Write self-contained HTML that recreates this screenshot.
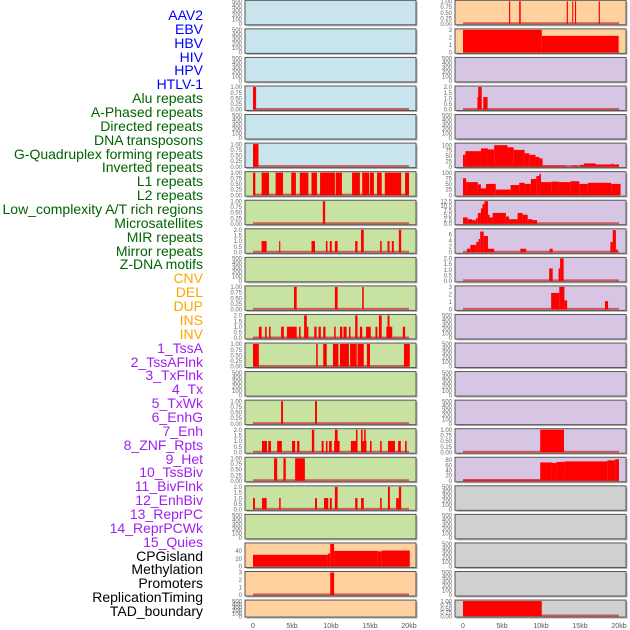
<!DOCTYPE html>
<html><head><meta charset="utf-8"><style>
body{margin:0;background:#fff;width:630px;height:630px;overflow:hidden;font-family:"Liberation Sans",sans-serif}
#labels div{position:absolute;right:427px;font-size:14px;line-height:14px;white-space:nowrap}
</style></head><body>
<div id="labels"></div>
<svg id="chart" width="630" height="630" style="position:absolute;left:0;top:0"></svg>
<script>
const labelTexts=["AAV2","EBV","HBV","HIV","HPV","HTLV-1","Alu repeats","A-Phased repeats","Directed repeats","DNA transposons","G-Quadruplex forming repeats","Inverted repeats","L1 repeats","L2 repeats","Low_complexity A/T rich regions","Microsatellites","MIR repeats","Mirror repeats","Z-DNA motifs","CNV","DEL","DUP","INS","INV","1_TssA","2_TssAFlnk","3_TxFlnk","4_Tx","5_TxWk","6_EnhG","7_Enh","8_ZNF_Rpts","9_Het","10_TssBiv","11_BivFlnk","12_EnhBiv","13_ReprPC","14_ReprPCWk","15_Quies","CPGisland","Methylation","Promoters","ReplicationTiming","TAD_boundary"];
const labelColors=["#0000ff","#0000ff","#0000ff","#0000ff","#0000ff","#0000ff","#006400","#006400","#006400","#006400","#006400","#006400","#006400","#006400","#006400","#006400","#006400","#006400","#006400","#ffa500","#ffa500","#ffa500","#ffa500","#ffa500","#a020f0","#a020f0","#a020f0","#a020f0","#a020f0","#a020f0","#a020f0","#a020f0","#a020f0","#a020f0","#a020f0","#a020f0","#a020f0","#a020f0","#a020f0","#000","#000","#000","#000","#000"];
const leftBg=["b","b","b","b","b","b","g","g","g","g","g","g","g","g","g","g","g","g","g","o","o","o"];
const rightBg=["o","o","p","p","p","p","p","p","p","p","p","p","p","p","p","p","p","y","y","y","y","y"];
const leftMax=[500,500,500,1,500,1,1,1,2,500,1,2,1,500,1,2,1,2,500,58,3,500];
const rightMax=[1,3,500,2,500,105,100,12.5,7.6,2,3,500,500,500,500,1,86,500,500,500,500,1];
const ticks500=["500","400","300","200","100","0"];
const ticks1=["1.00","0.75","0.50","0.25","0.00"];
const ticks2=["2.0","1.5","1.0","0.5","0.0"];
const ticks3=["3","2","1","0"];
const ticks100=["100","75","50","25","0"];
const ticks125=["12.5","10.0","7.5","5.0","2.5","0.0"];
const ticks6=["6","4","2","0"];
const ticks80=["80","60","40","20","0"];
const ticks40=["40","20","0"];
const xTickKb=[0,5,10,15,20];
const xTickLabels=["0","5kb","10kb","15kb","20kb"];
// segments: [startKb,endKb,value]
const L_alu=[[0,0.4,1]];
const L_gquad=[[0,0.7,1]];
const L_l1=[[0,0.3,1],[1.1,2.05,1],[2.9,3.85,1],[4.9,5.5,1],[6.0,7.1,1],[7.5,8.2,1],[8.6,10.5,1],[10.6,11.4,1],[12.7,13.7,1],[14.0,14.9,1],[15.0,15.5,1],[15.9,16.5,1],[16.9,19.0,1],[19.5,20,1]];
const L_lowc=[[8.95,9.25,1]];
const L_mir=[[1.1,1.75,1],[3.35,3.5,1],[7.5,7.95,1],[9.35,9.55,1],[9.85,10.1,1],[10.5,10.85,1],[13.1,13.4,1],[13.85,14.2,2],[16.3,16.5,1],[17.25,17.5,1],[17.8,18.05,1],[18.7,19.0,2]];
const L_zdna=[[5.25,5.6,1],[10.5,10.85,1],[14.0,14.2,1]];
const L_cnv=[[0.75,1.1,1],[1.55,1.75,1],[2.05,2.25,1],[3.6,3.95,1],[4.35,5.6,1],[5.9,6.1,1],[6.55,6.9,2],[6.9,7.1,1],[7.85,8.15,1],[8.4,8.7,1],[9.0,9.3,1],[10.4,10.6,1],[11.15,11.45,1],[11.6,12.0,1],[12.3,12.5,1],[13.1,13.4,2],[13.7,14.0,1],[14.5,15.1,1],[15.7,15.95,1],[16.15,16.5,2],[17.1,17.35,1],[17.25,17.5,2],[17.5,17.85,1],[19.2,19.5,1]];
const L_del=[[0,0.75,1],[8.1,8.3,1],[9.0,9.45,1],[10.25,10.95,1],[11.15,12.3,1],[12.45,13.3,1],[13.4,14.2,1],[14.6,15.0,1],[19.35,20.1,1]];
const L_ins=[[3.6,3.85,1],[7.95,8.2,1]];
const L_inv=[[1.15,1.8,1],[1.95,2.3,1],[3.1,3.7,1],[5.0,5.4,1],[5.65,5.95,1],[7.55,7.85,2],[8.8,9.05,1],[9.35,9.55,1],[9.75,10.1,1],[10.4,11.1,1],[10.5,10.85,2],[12.55,13.4,1],[13.2,13.4,2],[13.85,14.55,1],[13.85,14.05,2],[14.25,14.45,2],[15.0,15.2,1],[16.3,16.5,1],[17.3,18.2,1],[18.6,18.95,1],[19.5,19.7,1]];
const L_tss=[[2.7,3.1,1],[3.9,4.2,1],[5.4,6.65,1]];
const L_r17=[[0,0.25,1],[1.15,1.75,1],[3.35,3.55,1],[7.95,8.2,1],[9.1,9.65,1],[9.85,10.1,1],[10.5,10.85,2],[13.1,13.4,1],[13.85,14.2,1],[16.3,16.5,1],[17.3,17.55,2],[18.35,18.7,1],[18.7,19.0,2]];
const L_cpg=[[0,9.6,30],[9.6,9.9,33],[9.9,10.4,58],[10.4,16,40],[16,16.5,39],[16.5,20.1,41]];
const L_prom=[[9.9,10.4,3]];
const R_aav=[[5.9,6.05,1],[7.2,7.4,1],[13.3,13.45,1],[14.0,14.1,1],[14.35,14.5,1],[17.4,17.55,1]];
const R_ebv=[[0,10.1,3],[10.1,19.95,2.2]];
const R_alu=[[1.85,2.0,1.1],[1.95,2.4,2],[2.6,3.15,1.1]];
const R_gquad=[[0,0.3,55],[0.3,2.3,72],[2.3,3.2,85],[3.2,4,80],[4,5.7,100],[5.7,6.5,90],[6.5,7.9,78],[7.9,8.5,62],[8.5,9.3,55],[9.3,9.8,45],[9.8,10.2,38],[10.2,13.2,5],[14,14.7,5],[15,15.5,8],[15.5,17,15],[17,19,10],[19,19.3,13],[19.3,20,10]];
const R_l1=[[0,0.4,75],[0.4,1.9,58],[1.9,2.3,48],[2.3,2.95,30],[2.95,4.2,50],[4.2,6.1,25],[6.1,7.2,45],[7.2,7.9,55],[7.9,8.7,50],[8.7,9.4,72],[9.4,9.8,85],[9.8,10,95],[10,11.3,58],[11.3,12.3,60],[12.3,13.8,58],[13.8,14.9,62],[14.9,16,50],[16,19,55],[19,20.2,50]];
const R_lowc=[[0,0.6,3.5],[0.6,1.2,2.5],[1.2,1.65,2],[1.65,1.9,3],[1.9,2.3,6],[2.3,2.5,8.5],[2.5,2.75,11],[2.75,3.2,12.5],[3.2,3.4,5],[3.4,3.8,3.5],[3.8,5.5,6],[5.5,5.9,4],[5.9,7,2.5],[7,7.65,6],[7.65,8.3,5],[8.3,8.9,2.5],[8.9,9.5,2]];
const R_mir=[[0.5,0.95,1.2],[0.95,1.7,2.5],[1.7,2,3.5],[2,2.2,4.5],[2.2,2.65,7],[2.65,3.2,5.5],[3.2,4,1.2],[7.35,8.1,1.2],[11.1,11.5,1.2],[18.9,19.2,3.5],[19.2,19.6,7.5],[19.6,19.8,1]];
const R_mirror=[[11.05,11.5,1.1],[12.25,12.45,1.1],[12.45,12.9,2]];
const R_zdna=[[11.3,12.35,2.2],[12.35,13,3],[13,13.35,1.2],[18.2,18.6,1.1]];
const R_r15=[[9.9,12.95,1]];
const R_r16=[[0,9.9,5],[9.9,11.4,70],[11.4,12,68],[12,13,72],[13,18.5,74],[18.5,19.5,78],[19.5,20,82]];
const R_tad=[[0,10.1,1]];

const leftTicks=[ticks500,ticks500,ticks500,ticks1,ticks500,ticks1,ticks1,ticks1,ticks2,ticks500,ticks1,ticks2,ticks1,ticks500,ticks1,ticks2,ticks1,ticks2,ticks500,ticks40,ticks3,ticks500];
const rightTicks=[ticks1,ticks3,ticks500,ticks2,ticks500,ticks100,ticks100,ticks125,ticks6,ticks2,ticks3,ticks500,ticks500,ticks500,ticks500,ticks1,ticks80,ticks500,ticks500,ticks500,ticks500,ticks1];
const leftData=[null,null,null,L_alu,null,L_gquad,L_l1,L_lowc,L_mir,null,L_zdna,L_cnv,L_del,null,L_ins,L_inv,L_tss,L_r17,null,L_cpg,L_prom,null];
const rightData=[R_aav,R_ebv,null,R_alu,null,R_gquad,R_l1,R_lowc,R_mir,R_mirror,R_zdna,null,null,null,null,R_r15,R_r16,null,null,null,null,R_tad];

const bgCol={b:"#c8e4ec",g:"#c8e2a2",o:"#ffd19e",p:"#d6c6e3",y:"#d0d0d0"};
const NS="http://www.w3.org/2000/svg";
const svg=document.getElementById('chart');
const lab=document.getElementById('labels');
labelTexts.forEach((t,i)=>{const d=document.createElement('div');


d.textContent=t;d.style.top=(8+i*13.86)+'px';d.style.color=labelColors[i];lab.appendChild(d);});
function mk(tag,attrs,parent){const e=document.createElementNS(NS,tag);for(const k in attrs)e.setAttribute(k,attrs[k]);(parent||svg).appendChild(e);return e;}
function rowTop(i){return 0.3+28.56*i;}
function rowH(i){return i===21?17:24.5;}
function xScale(col,kb){return (col===0?253:463)+kb*7.8;}
function drawPanel(col,i,bg,maxv,tk,data){
  const px=col===0?245:455,pw=171,top=rowTop(i),h=rowH(i),bot=top+h;
  const g=mk('g',{});
  
  
  mk('rect',{x:px+1.5,y:top+1.5,width:pw,height:h,fill:'#b0b0b0'},g);
  mk('rect',{x:px,y:top,width:pw,height:h,fill:bgCol[bg],stroke:'#555',"stroke-width":1},g);
  const yS=v=>bot-1-(v/maxv)*(h-2);
  tk.forEach((t,k)=>{const v=parseFloat(t);const tx=mk('text',{x:px-3,y:yS(v)+2.2,"font-size":6,fill:'#666',"text-anchor":'end'},g);
    
    
    tx.textContent=t;});
  if(data){
    mk('line',{x1:xScale(col,0),x2:xScale(col,20),y1:bot-1.5,y2:bot-1.5,stroke:'#c84040',"stroke-width":2,opacity:0.8},g);
    data.forEach(s=>{const x0=xScale(col,s[0]),x1=xScale(col,s[1]);const r=mk('rect',{x:x0,y:yS(s[2]),width:Math.max(1,x1-x0),height:bot-1-yS(s[2]),fill:'#ff0000'},g);
      
      });
  }
}
for(let i=0;i<22;i++){
  drawPanel(0,i,leftBg[i],leftMax[i],leftTicks[i],leftData[i]);
  drawPanel(1,i,rightBg[i],rightMax[i],rightTicks[i],rightData[i]);
}
[0,1].forEach(col=>{xTickKb.forEach((kb,k)=>{const t=mk('text',{x:xScale(col,kb),y:628,"font-size":7,fill:'#555',"text-anchor":'middle'});
  
  
  t.textContent=xTickLabels[k];});});
</script>
</body></html>
